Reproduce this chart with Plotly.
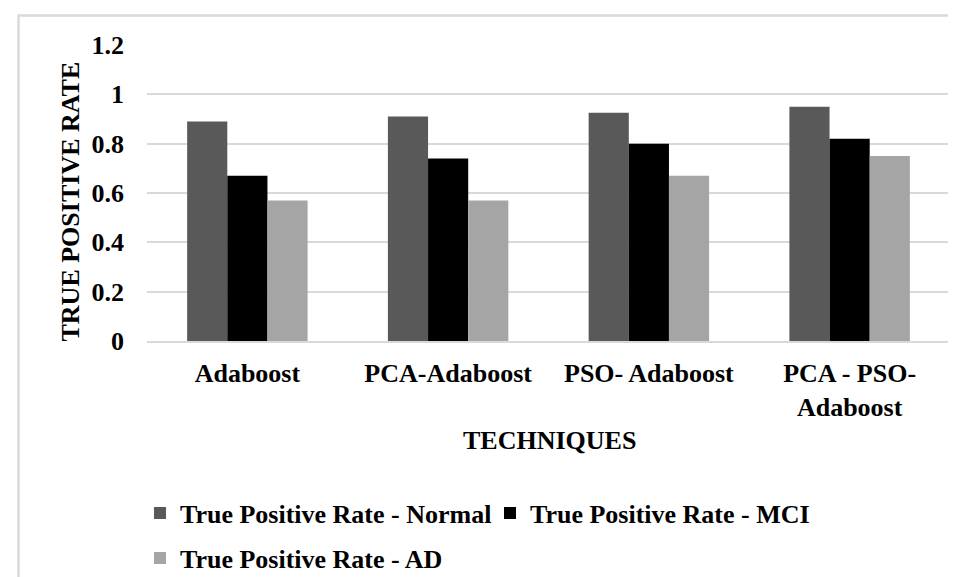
import plotly.graph_objects as go

categories = ["Adaboost", "PCA-Adaboost", "PSO- Adaboost", "PCA - PSO-<br>Adaboost"]
tpr_normal = [0.89, 0.91, 0.925, 0.95]
tpr_mci = [0.67, 0.74, 0.80, 0.82]
tpr_ad = [0.57, 0.57, 0.67, 0.75]
y_ticks = [0, 0.2, 0.4, 0.6, 0.8, 1, 1.2]
y_ticktext = ["0", "0.2", "0.4", "0.6", "0.8", "1", "1.2"]

series_names = ["True Positive Rate - Normal", "True Positive Rate - MCI", "True Positive Rate - AD"]
colors = ["#595959", "#000000", "#a5a5a5"]
legends = ["legend", "legend", "legend2"]

FONT = "Liberation Serif, Times New Roman, serif"
W, H = 956, 577
L, R, T, B = 139, 14, 37, 244
pw, ph = W - L - R, H - T - B

def px_x(p):
    return (p - L) / pw

def px_y(p):
    return (H - B - p) / ph

fig = go.Figure()
for name, vals, col, lg in zip(series_names, [tpr_normal, tpr_mci, tpr_ad], colors, legends):
    fig.add_trace(go.Bar(x=categories, y=vals, name=name, marker=dict(color=col, line=dict(width=0)),
                         legend=lg))

legend_font = dict(family=FONT, size=26, color="black", weight="bold")

fig.update_layout(
    width=W, height=H,
    margin=dict(l=L, r=R, t=T, b=B, autoexpand=False),
    paper_bgcolor="white", plot_bgcolor="white",
    font=dict(family=FONT, size=26, color="black"),
    barmode="group", bargap=0.4, bargroupgap=0,
    showlegend=True,
    legend=dict(orientation="h", xref="container", yref="container",
                x=132 / W, xanchor="left", y=1 - 505 / H, yanchor="middle",
                font=legend_font, bgcolor="rgba(0,0,0,0)", itemwidth=30,
                entrywidthmode="pixels", entrywidth=305),
    legend2=dict(orientation="h", xref="container", yref="container",
                 x=132 / W, xanchor="left", y=1 - 550 / H, yanchor="middle",
                 font=legend_font, bgcolor="rgba(0,0,0,0)", itemwidth=30),
    xaxis=dict(showgrid=False, showline=True, linecolor="#d9d9d9", linewidth=1.5,
               tickfont=dict(family=FONT, size=26, color="black", weight="bold"),
               ticks="", ticklabelstandoff=8, automargin=False),
    yaxis=dict(range=[0, 1.2], tickvals=y_ticks, ticktext=y_ticktext,
               showgrid=True, gridcolor="#d9d9d9", gridwidth=1.5, zeroline=False,
               showline=False, ticks="", ticklabelstandoff=22, automargin=False,
               tickfont=dict(family=FONT, size=26, color="black", weight="bold")),
    annotations=[
        dict(text="<b>TRUE POSITIVE RATE</b>", textangle=-90, xref="paper", yref="paper",
             x=px_x(62), y=px_y(193.5), xanchor="center", yanchor="middle", showarrow=False,
             font=dict(family=FONT, size=26, color="black")),
        dict(text="<b>TECHNIQUES</b>", xref="paper", yref="paper",
             x=px_x(541), y=px_y(433), xanchor="center", yanchor="middle", showarrow=False,
             font=dict(family=FONT, size=26, color="black")),
    ],
    shapes=[
        dict(type="rect", xref="paper", yref="paper", x0=px_x(10.5), y0=px_y(600),
             x1=px_x(980), y1=px_y(7.5), line=dict(color="#d9d9d9", width=2.5),
             fillcolor="rgba(0,0,0,0)", layer="below"),
    ],
)

fig.write_html("out.html")
